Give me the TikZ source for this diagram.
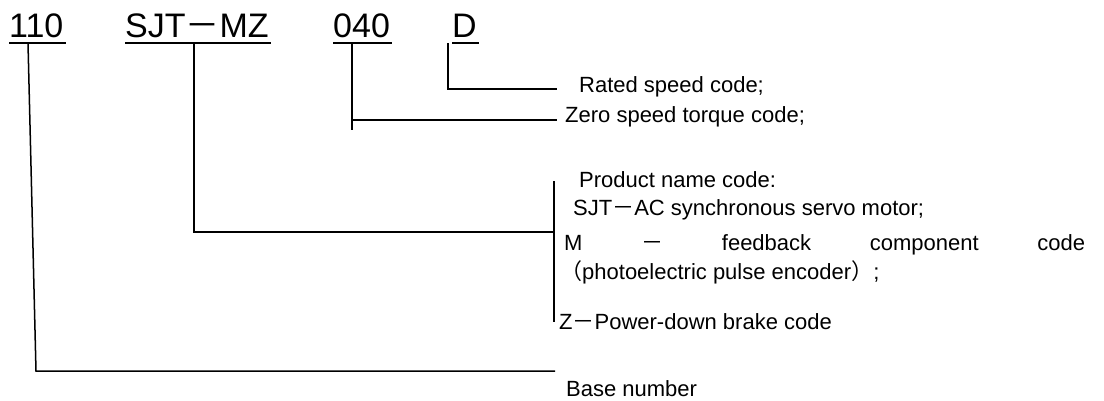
\documentclass[tikz,border=0pt]{standalone}
\usepackage{fontspec}
\setmainfont{Liberation Sans}
\newfontfamily\cjk{Noto Sans CJK SC}
\usetikzlibrary{positioning}

\newcommand{\fw}[1]{{\cjk #1}}

\begin{document}
\begin{tikzpicture}[x=1pt, y=-1pt,
    code/.style={font=\fontsize{34}{40}\selectfont, inner sep=0pt, anchor=base west},
    note/.style={font=\fontsize{22}{26}\selectfont, inner sep=0pt, anchor=base west},
    uline/.style={line width=2.5pt},
    conn/.style={line width=1.5pt}
]
\useasboundingbox (0,0) rectangle (1104,400);

% model code
\node[code] (frame) at (9,37)   {110};
\node[code] (name)  at (125,37) {SJT\fw{－}MZ};
\node[code] (torq)  at (333,37) {040};
\node[code] (speed) at (452,37) {D};

\foreach \n in {frame, name, torq, speed}
  \draw[uline] ([yshift=-6pt]\n.base west) -- ([xshift=2pt,yshift=-6pt]\n.base east);

% explanations
\node[note] (rated) at (579,92)  {Rated speed code;};
\node[note] (zero)  at (565,122) {Zero speed torque code;};

\node[note] (prodhead)  at (579,187) {Product name code:};
\node[note] (prodsjt)   at (573,215) {SJT\fw{－}AC synchronous servo motor;};
\node[note] (prodm)     at (564,250) {\makebox[521pt][s]{M \fw{－} feedback component code}};
\node[note] (prodphoto) at (560,279) {\fw{（}photoelectric pulse encoder\fw{）};};
\node[note] (prodz)     at (559,329) {Z\fw{－}Power-down brake code};

\node[note] (base) at (566,396) {Base number};

\coordinate (ttail) at (352,130);
\coordinate (brtop) at (554,181);
\coordinate (brmid) at (554,232);
\coordinate (brbot) at (554,322);
\coordinate (fcorner) at (36,371);

% leaders
\draw[conn] ([xshift=-4pt,yshift=-6pt]speed.base west) |- ([xshift=-22pt,yshift=3pt]rated.base west);
\draw[conn] ([xshift=19pt,yshift=-6pt]torq.base west) -- (ttail);
\draw[conn] (ttail |- zero.base west) ++(0,-2) -- ([xshift=-8pt,yshift=2pt]zero.base west);
\draw[conn] ([xshift=69pt,yshift=-6pt]name.base west) |- (brmid);
\draw[conn] (brtop) -- (brbot);
\draw[conn] ([xshift=19pt,yshift=-6pt]frame.base west) -- (fcorner) -- ([xshift=-11pt,yshift=25pt]base.base west);
\end{tikzpicture}
\end{document}
